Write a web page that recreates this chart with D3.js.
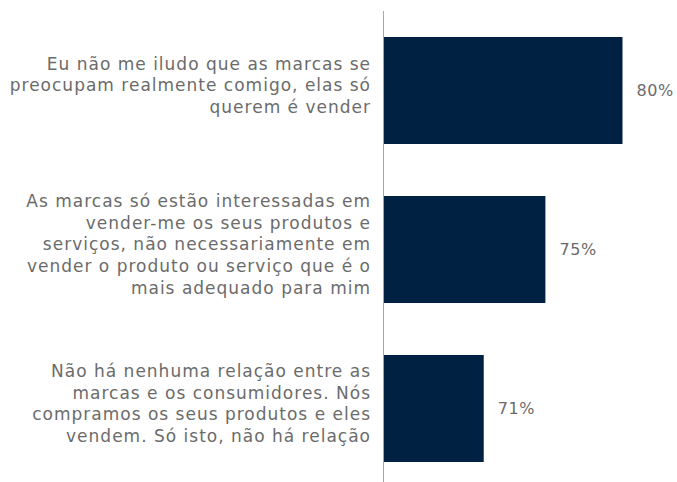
<!DOCTYPE html>
<html>
<head>
<meta charset="utf-8">
<script src="https://cdn.jsdelivr.net/npm/d3@7"></script>
<style>
  body { margin: 0; background: #fff; }
  svg { display: block; }
</style>
</head>
<body>
<svg id="chart" width="677" height="482"></svg>
<script>
// chart data
var categories = [
    ["Eu não me iludo que as marcas se", "preocupam realmente comigo, elas só", "querem é vender"],
    ["As marcas só estão interessadas em", "vender-me os seus produtos e", "serviços, não necessariamente em", "vender o produto ou serviço que é o", "mais adequado para mim"],
    ["Não há nenhuma relação entre as", "marcas e os consumidores. Nós", "compramos os seus produtos e eles", "vendem. Só isto, não há relação"]
];
var values = [80, 75, 71];
var valueLabels = ["80%", "75%", "71%"];

var svg = d3.select('#chart');
var axisX = 383.5;

// scales
var y = d3.scaleBand()
    .domain(d3.range(values.length))
    .range([11, 488])
    .paddingInner(0.327)
    .paddingOuter(0.1635);

var x = d3.scaleLinear()
    .domain([64.5, 80])
    .range([axisX, axisX + 239]);

// bars
svg.append('g').selectAll('rect')
    .data(values)
    .join('rect')
    .attr('x', axisX)
    .attr('y', function (d, i) { return y(i); })
    .attr('width', function (d) { return x(d) - axisX; })
    .attr('height', y.bandwidth())
    .attr('fill', '#012142');

// vertical axis line
svg.append('line')
    .attr('x1', axisX).attr('x2', axisX)
    .attr('y1', 11).attr('y2', 482)
    .attr('stroke', '#a6a6a6')
    .attr('stroke-width', 1);

// value labels
svg.append('g').selectAll('text')
    .data(values)
    .join('text')
    .attr('x', function (d) { return x(d) + 14; })
    .attr('y', function (d, i) { return y(i) + y.bandwidth() / 2; })
    .attr('dy', '0.35em')
    .attr('font-family', 'DejaVu Sans, sans-serif')
    .attr('font-size', 16)
    .attr('letter-spacing', 0.6)
    .attr('fill', '#6b6b6b')
    .text(function (d, i) { return valueLabels[i]; });

// category labels (multi-line, right aligned)
var lineH = 21.7;
var labels = svg.append('g').selectAll('text')
    .data(categories)
    .join('text')
    .attr('text-anchor', 'end')
    .attr('font-family', 'DejaVu Sans, sans-serif')
    .attr('font-size', 17)
    .attr('letter-spacing', 1)
    .attr('fill', '#6b6b6b')
    .attr('transform', function (d, i) {
        var cy = y(i) + y.bandwidth() / 2 - 5;
        var top = cy - (d.length - 1) * lineH / 2;
        return 'translate(371,' + top + ')';
    });

labels.selectAll('tspan')
    .data(function (d) { return d; })
    .join('tspan')
    .attr('x', 0)
    .attr('y', function (d, j) { return j * lineH; })
    .attr('dy', '0.35em')
    .text(function (d) { return d; });
</script>
</body>
</html>
